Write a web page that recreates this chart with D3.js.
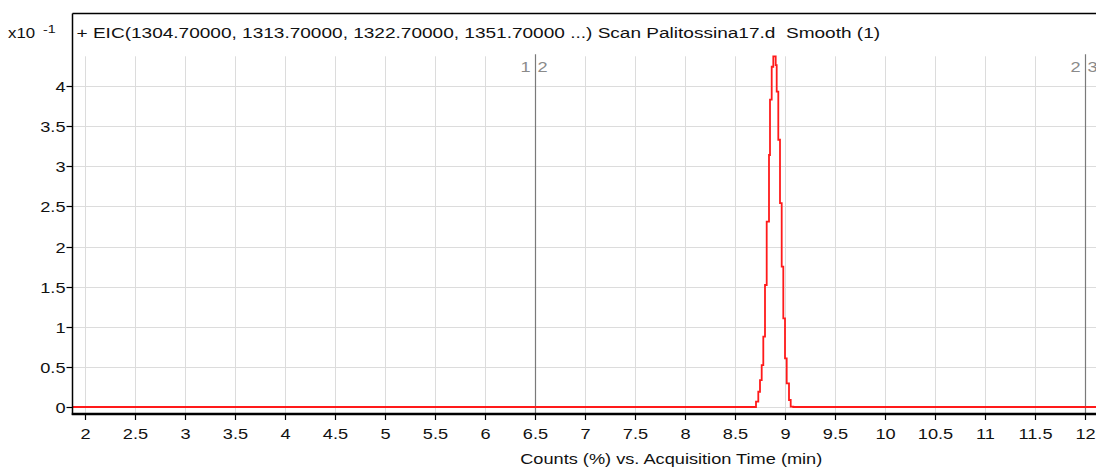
<!DOCTYPE html>
<html>
<head>
<meta charset="utf-8">
<script src="https://cdn.jsdelivr.net/npm/d3@7"></script>
<style>
  html, body { margin: 0; padding: 0; background: #fff; }
  svg { display: block; }
  text { font-family: "Liberation Sans", Arial, sans-serif; fill: #111; white-space: pre; }
</style>
</head>
<body>
<svg id="chart" width="1096" height="469"></svg>
<script>
// Acquisition time (min) and smoothed EIC counts (x10^-1 %)
const times = [1.87, 8.70, 8.71, 8.733, 8.75, 8.767, 8.783, 8.80, 8.817, 8.84, 8.85, 8.867, 8.883,
               8.907, 8.917, 8.933, 8.95, 8.967, 8.983, 9.00, 9.017, 9.04, 9.057, 9.083, 12.11];
const counts = [0, 0, 0.066, 0.19, 0.336, 0.523, 0.876, 1.52, 2.31, 3.14, 3.83, 4.24, 4.37,
                4.26, 3.93, 3.33, 2.54, 1.75, 1.105, 0.607, 0.295, 0.087, 0.004, 0, 0];

const xTicks = [2, 2.5, 3, 3.5, 4, 4.5, 5, 5.5, 6, 6.5, 7, 7.5, 8, 8.5, 9, 9.5, 10, 10.5, 11, 11.5, 12];
const yTicks = [0, 0.5, 1, 1.5, 2, 2.5, 3, 3.5, 4];

// Segment boundary markers
const markerTimes = [6.5, 12];
const markerLeft = ["1", "2"];
const markerRight = ["2", "3"];

const titleText = "+ EIC(1304.70000, 1313.70000, 1322.70000, 1351.70000 ...) Scan Palitossina17.d  Smooth (1)";
const xAxisTitle = "Counts (%) vs. Acquisition Time (min)";
const yExponent = "-1";

const plot = { left: 72.5, top: 13.5, right: 1096, bottom: 414 };
const FS = 14, SX = 1.3; // font size and horizontal stretch of the lettering

const svg = d3.select("#chart");
const x = d3.scaleLinear().domain([2, 12]).range([85, 1085]);
const y = d3.scaleLinear().domain([0, 4]).range([407, 86]);

const data = times.map((t, i) => ({ t, v: counts[i] }));
const gridTop = y(d3.max(counts));

// stretched text helper
function label(g, px, py, str, anchor, opts = {}) {
  return g.append("text")
    .attr("transform", `translate(${px},${py}) scale(${opts.sx || SX},1)`)
    .attr("text-anchor", anchor)
    .attr("font-size", opts.size || FS)
    .style("fill", opts.fill || "#111")
    .text(str);
}

svg.append("defs").append("clipPath").attr("id", "plotclip")
  .append("rect").attr("x", plot.left).attr("y", plot.top)
  .attr("width", plot.right - plot.left).attr("height", plot.bottom - plot.top);

const grid = svg.append("g").attr("clip-path", "url(#plotclip)");
// horizontal grid
grid.selectAll("line.h").data(yTicks).join("line")
  .attr("x1", plot.left).attr("x2", plot.right)
  .attr("y1", d => Math.round(y(d)) + 0.5).attr("y2", d => Math.round(y(d)) + 0.5)
  .attr("stroke", "#dcdcdc").attr("stroke-width", 1);
// vertical grid
grid.selectAll("line.v").data(xTicks).join("line")
  .attr("x1", d => Math.round(x(d)) + 0.5).attr("x2", d => Math.round(x(d)) + 0.5)
  .attr("y1", gridTop).attr("y2", plot.bottom)
  .attr("stroke", "#dcdcdc").attr("stroke-width", 1);

// segment markers
const mk = svg.append("g");
markerTimes.forEach((t, i) => {
  const mx = Math.round(x(t)) + 0.5;
  mk.append("line").attr("x1", mx).attr("x2", mx).attr("y1", gridTop - 2).attr("y2", plot.bottom)
    .attr("stroke", "#7a7a7a").attr("stroke-width", 1.2);
  label(mk, mx - 5, gridTop + 16, markerLeft[i], "end", { fill: "#8a8a8a" });
  label(mk, mx + 2, gridTop + 16, markerRight[i], "start", { fill: "#8a8a8a" });
});

// trace
const line = d3.line().x(d => x(d.t)).y(d => y(d.v)).curve(d3.curveStepAfter);
svg.append("g").attr("clip-path", "url(#plotclip)")
  .append("path").datum(data)
  .attr("d", line).attr("fill", "none")
  .attr("stroke", "#ff1a1a").attr("stroke-width", 1.8);

// frame: top border
svg.append("line").attr("x1", plot.left).attr("x2", plot.right).attr("y1", plot.top).attr("y2", plot.top)
  .attr("stroke", "#000").attr("stroke-width", 1.5);

// y axis
const yAxis = svg.append("g");
yAxis.append("line").attr("x1", plot.left).attr("x2", plot.left).attr("y1", plot.top).attr("y2", plot.bottom + 1)
  .attr("stroke", "#000").attr("stroke-width", 1.5);
yTicks.forEach(v => {
  const ty = Math.round(y(v)) + 0.5;
  yAxis.append("line").attr("x1", plot.left - 6).attr("x2", plot.left).attr("y1", ty).attr("y2", ty)
    .attr("stroke", "#000").attr("stroke-width", 1.2);
  label(yAxis, plot.left - 7, ty + 5, d3.format("")(v), "end");
});

// x axis
const xAxis = svg.append("g");
xAxis.append("line").attr("x1", plot.left - 0.75).attr("x2", plot.right).attr("y1", plot.bottom).attr("y2", plot.bottom)
  .attr("stroke", "#000").attr("stroke-width", 2.5);
xTicks.forEach(v => {
  const tx = Math.round(x(v)) + 0.5;
  xAxis.append("line").attr("x1", tx).attr("x2", tx).attr("y1", plot.bottom).attr("y2", plot.bottom + 6)
    .attr("stroke", "#000").attr("stroke-width", 1.2);
  label(xAxis, tx, plot.bottom + 25, d3.format("")(v), "middle");
});

// titles
label(svg, (plot.left + plot.right) / 2 + 87, 464, xAxisTitle, "middle");
label(svg, plot.left + 4, 38, titleText, "start", { sx: 1.36 });
label(svg, 8, 38, "x10", "start", { sx: 1.2 });
label(svg, 43, 33, yExponent, "start", { size: 11 });
</script>
</body>
</html>
